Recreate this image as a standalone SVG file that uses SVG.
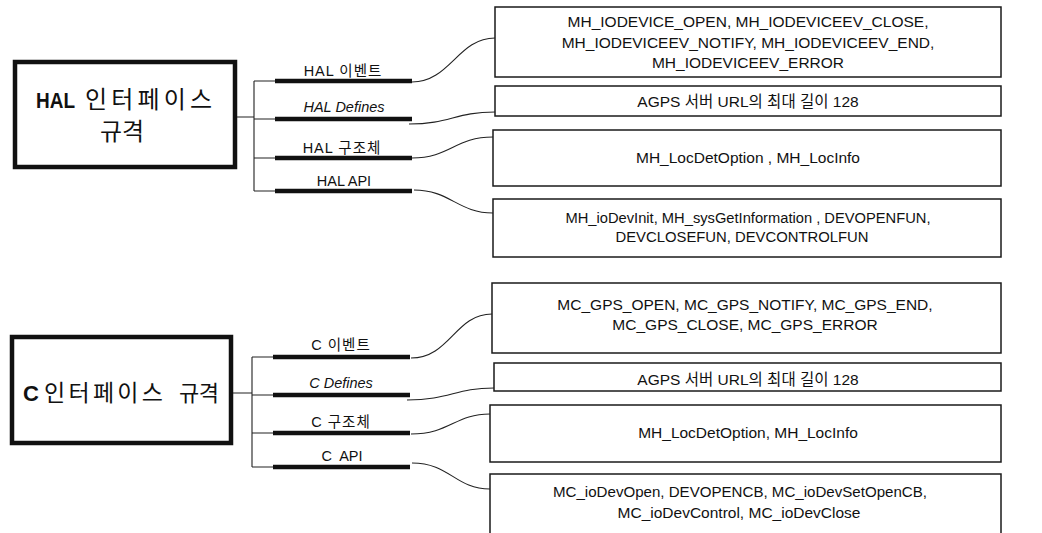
<svg xmlns="http://www.w3.org/2000/svg" width="1042" height="533" viewBox="0 0 1042 533">
  <style>
    .main { fill: #fff; stroke: #111; stroke-width: 4.5; }
    .item { fill: #fff; stroke: #1a1a1a; stroke-width: 1.5; }
    .title { font-family: "Liberation Sans", "Noto Sans CJK KR", sans-serif; font-size: 24px; fill: #111; }
    .title.b { font-weight: bold; font-size: 22px; }
    .mid { text-anchor: middle; }
    .lbl { font-family: "Liberation Sans", "Noto Sans CJK KR", sans-serif; font-size: 14.5px; fill: #111; text-anchor: middle; }
    .lbl.ko { letter-spacing: 1px; }
    .lbl.it { font-style: italic; }
    .txt { font-family: "Liberation Sans", "Noto Sans CJK KR", sans-serif; font-size: 15.5px; fill: #111; text-anchor: middle; }
    .wire { fill: none; stroke: #222; stroke-width: 1.1; }
    .bar { fill: none; stroke: #111; stroke-width: 4.5; }
  </style>

  <!-- HAL interface tree -->
  <g id="hal-root">
    <rect class="main" x="15" y="62" width="220" height="105"/>
    <text class="title b" x="36" y="108" textLength="39" lengthAdjust="spacingAndGlyphs">HAL</text>
    <text class="title" x="85" y="108" textLength="127" lengthAdjust="spacing">인터페이스</text>
    <text class="title mid" x="122" y="140">규격</text>
  </g>

  <g id="hal-events">
    <rect class="item" x="495" y="7" width="506" height="70"/>
    <text class="txt" x="748" y="27">MH_IODEVICE_OPEN, MH_IODEVICEEV_CLOSE,</text>
    <text class="txt" x="748" y="48">MH_IODEVICEEV_NOTIFY, MH_IODEVICEEV_END,</text>
    <text class="txt" x="748" y="68">MH_IODEVICEEV_ERROR</text>
  </g>
  <g id="hal-defines">
    <rect class="item" x="495" y="86" width="506" height="30"/>
    <text class="txt" x="748" y="107">AGPS 서버 URL의 최대 길이 128</text>
  </g>
  <g id="hal-structs">
    <rect class="item" x="493" y="130" width="508" height="56"/>
    <text class="txt" x="748" y="163">MH_LocDetOption , MH_LocInfo</text>
  </g>
  <g id="hal-api">
    <rect class="item" x="493" y="199" width="508" height="58"/>
    <text class="txt" x="748" y="223" textLength="365" lengthAdjust="spacingAndGlyphs">MH_ioDevInit, MH_sysGetInformation , DEVOPENFUN,</text>
    <text class="txt" x="742" y="242" textLength="253" lengthAdjust="spacingAndGlyphs">DEVCLOSEFUN, DEVCONTROLFUN</text>
  </g>

  <!-- C interface tree -->
  <g id="c-root">
    <rect class="main" x="12" y="337" width="219" height="106"/>
    <text class="title b" x="23" y="401">C</text>
    <text class="title" x="44" y="401" textLength="119" lengthAdjust="spacing" style="font-size:23px">인터페이스</text>
    <text class="title" x="179" y="401" textLength="40" lengthAdjust="spacing" style="font-size:22px">규격</text>
  </g>

  <g id="c-events">
    <rect class="item" x="492" y="283" width="509" height="70"/>
    <text class="txt" x="745" y="310">MC_GPS_OPEN, MC_GPS_NOTIFY, MC_GPS_END,</text>
    <text class="txt" x="745" y="330">MC_GPS_CLOSE, MC_GPS_ERROR</text>
  </g>
  <g id="c-defines">
    <rect class="item" x="494" y="363" width="507" height="28"/>
    <text class="txt" x="748" y="385">AGPS 서버 URL의 최대 길이 128</text>
  </g>
  <g id="c-structs">
    <rect class="item" x="490" y="405" width="511" height="57"/>
    <text class="txt" x="748" y="438">MH_LocDetOption, MH_LocInfo</text>
  </g>
  <g id="c-api">
    <rect class="item" x="490" y="474" width="511" height="70"/>
    <text class="txt" x="740" y="497" textLength="374" lengthAdjust="spacingAndGlyphs">MC_ioDevOpen, DEVOPENCB, MC_ioDevSetOpenCB,</text>
    <text class="txt" x="739" y="518">MC_ioDevControl, MC_ioDevClose</text>
  </g>

  <!-- connectors: trunk, branch bars with labels, curved leads -->
  <g id="connectors">
    <!-- HAL trunk -->
    <path class="wire" d="M237,117 H254 M254,81 V191 M254,81 H275 M254,119 H275 M254,158 H275 M254,191 H275"/>
    <path class="bar" d="M275,81 H412 M275,119 H412 M275,158 H412 M275,191 H412"/>
    <text class="lbl ko" x="343" y="76">HAL 이벤트</text>
    <text class="lbl it" x="344" y="112">HAL Defines</text>
    <text class="lbl ko" x="342" y="153">HAL 구조체</text>
    <text class="lbl" x="344" y="186">HAL API</text>
    <path class="wire" d="M412,82 C450,82 458,38 495,38"/>
    <path class="wire" d="M409,124 C450,124 455,112 495,112"/>
    <path class="wire" d="M412,158 C450,158 455,137 493,137"/>
    <path class="wire" d="M414,190 C450,190 458,213 493,213"/>

    <!-- C trunk -->
    <path class="wire" d="M233,393 H252 M252,357 V467 M252,357 H273 M252,395 H273 M252,433 H273 M252,467 H273"/>
    <path class="bar" d="M273,357 H410 M273,395 H410 M273,433 H410 M273,467 H410"/>
    <text class="lbl ko" x="341" y="350">C 이벤트</text>
    <text class="lbl it" x="341" y="388">C Defines</text>
    <text class="lbl ko" x="341" y="427">C 구조체</text>
    <text class="lbl" x="342" y="461" xml:space="preserve">C  API</text>
    <path class="wire" d="M411,358 C450,358 455,314 492,314"/>
    <path class="wire" d="M407,400 C450,400 455,388 494,388"/>
    <path class="wire" d="M411,434 C450,434 455,414 490,414"/>
    <path class="wire" d="M412,463 C450,463 455,489 490,489"/>
  </g>
</svg>
